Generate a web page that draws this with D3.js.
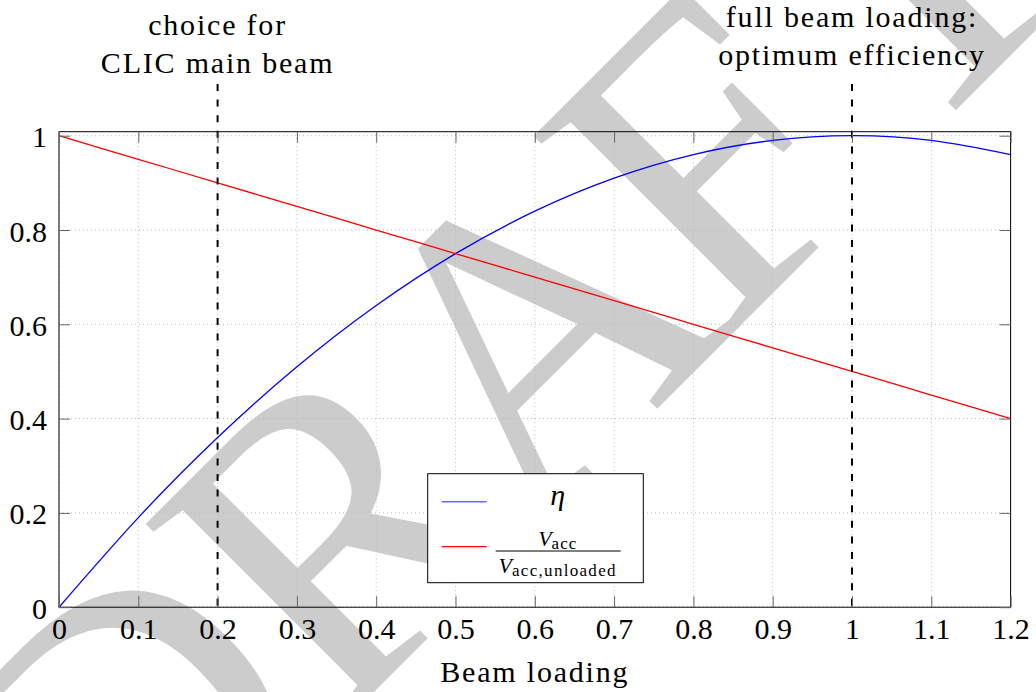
<!DOCTYPE html>
<html>
<head>
<meta charset="utf-8">
<script src="https://cdn.jsdelivr.net/npm/d3@7"></script>
<style>
    body { margin: 0; background: #fff; }
    svg text { font-family: "Liberation Serif", Tinos, "Times New Roman", "DejaVu Serif", serif; fill: #000; }
</style>
</head>
<body>
<div class="visualisation"></div>
<script>
// Values
const beamLoading = [0, 0.1, 0.2, 0.3, 0.4, 0.5, 0.6, 0.7, 0.8, 0.9, 1.0, 1.1, 1.2];
const efficiency = [0, 0.19, 0.36, 0.51, 0.64, 0.75, 0.84, 0.91, 0.96, 0.99, 1.0, 0.99, 0.96];
const voltageRatio = [1, 0.95, 0.9, 0.85, 0.8, 0.75, 0.7, 0.65, 0.6, 0.55, 0.5, 0.45, 0.4];
const xTicks = [0, 0.1, 0.2, 0.3, 0.4, 0.5, 0.6, 0.7, 0.8, 0.9, 1, 1.1, 1.2];
const yTicks = [0, 0.2, 0.4, 0.6, 0.8, 1];
const markers = [0.2, 1];
const markerNotes = [["choice for", "CLIC main beam"], ["full beam loading:", "optimum efficiency"]];
const xLabel = "Beam loading";

// Size related variables
const width = 1036;
const height = 692;
const xMax = 1.2;
const yMax = 1.0085;
const plot = { left: 59, right: 1010.6, top: 131.7, bottom: 607.2 };
const serif = '"Liberation Serif", Tinos, "Times New Roman", "DejaVu Serif", serif';
const fontSize = 30;
const spacing = "1.8px";
const tickLen = 11;

const svg = d3.select(".visualisation")
    .append("svg")
    .attr("width", width)
    .attr("height", height)
    .attr("viewBox", `0 0 ${width} ${height}`);

const x = d3.scaleLinear().domain([0, xMax]).range([plot.left, plot.right]);
const y = d3.scaleLinear().domain([0, yMax]).range([plot.bottom, plot.top]);

// DRAFT watermark behind everything, one letter at a time along a 45 degree baseline
const wmLetters = "DRAFT".split("");
const wmOffsets = [-570, -280, 0, 245, 520];
svg.append("g")
    .attr("transform", "translate(634,432) rotate(-45)")
    .selectAll("text")
    .data(wmLetters)
    .enter()
    .append("text")
    .attr("x", (d, i) => wmOffsets[i])
    .attr("y", 0)
    .attr("text-anchor", "middle")
    .style("font-family", serif)
    .style("font-size", "428px")
    .style("fill", "#cccccc")
    .text(d => d);

// dotted grid
const grid = svg.append("g").attr("class", "grid")
    .attr("stroke", "#b8b8b8")
    .attr("stroke-width", 1)
    .attr("stroke-dasharray", "1,3");
grid.selectAll("line.gx")
    .data(xTicks)
    .enter()
    .append("line")
    .attr("class", "gx")
    .attr("x1", d => x(d)).attr("x2", d => x(d))
    .attr("y1", y(0)).attr("y2", y(yMax));
grid.selectAll("line.gy")
    .data(yTicks)
    .enter()
    .append("line")
    .attr("class", "gy")
    .attr("x1", x(0)).attr("x2", x(xMax))
    .attr("y1", d => y(d)).attr("y2", d => y(d));

// curves
const line = d3.line()
    .x(d => x(d[0]))
    .y(d => y(d[1]))
    .curve(d3.curveNatural);

svg.append("path")
    .datum(d3.zip(beamLoading, efficiency))
    .attr("fill", "none")
    .attr("stroke", "#0000ff")
    .attr("stroke-width", 1.3)
    .attr("d", line);

svg.append("path")
    .datum(d3.zip(beamLoading, voltageRatio))
    .attr("fill", "none")
    .attr("stroke", "#ff0000")
    .attr("stroke-width", 1.3)
    .attr("d", line);

// dashed markers with notes above
const dashTop = 84;
svg.selectAll("line.marker")
    .data(markers)
    .enter()
    .append("line")
    .attr("class", "marker")
    .attr("x1", d => x(d)).attr("x2", d => x(d))
    .attr("y1", dashTop).attr("y2", y(0))
    .attr("stroke", "#000")
    .attr("stroke-width", 2)
    .attr("stroke-dasharray", "7,8.6");

const noteBottom = [73, 65];
const notes = svg.selectAll("text.note")
    .data(markers)
    .enter()
    .append("text")
    .attr("class", "note")
    .attr("text-anchor", "middle")
    .style("font-family", serif)
    .style("font-size", fontSize + "px")
    .style("letter-spacing", spacing);
notes.each(function (d, i) {
    const lines = markerNotes[i];
    lines.forEach((t, j) => {
        d3.select(this).append("tspan")
            .attr("x", x(d))
            .attr("y", noteBottom[i] - (lines.length - 1 - j) * 38.5)
            .text(t);
    });
});

// frame
svg.append("rect")
    .attr("x", x(0))
    .attr("y", y(yMax))
    .attr("width", x(xMax) - x(0))
    .attr("height", y(0) - y(yMax))
    .attr("fill", "none")
    .attr("stroke", "#000")
    .attr("stroke-width", 1);

// inward ticks on all four sides
const fmt = d3.format("~g");
function styleAxis(g) {
    g.attr("font-family", null).attr("font-size", null);
    g.select(".domain").remove();
    g.selectAll("line").attr("stroke", "#666");
    g.selectAll("text").style("font-family", serif).style("font-size", fontSize + "px");
}

svg.append("g")
    .attr("transform", `translate(0,${y(0)})`)
    .call(d3.axisBottom(x).tickValues(xTicks).tickSize(-tickLen).tickFormat(fmt))
    .call(styleAxis)
    .call(g => g.selectAll("text")
        .attr("dy", null)
        .attr("y", 32));

svg.append("g")
    .attr("transform", `translate(0,${y(yMax)})`)
    .call(d3.axisTop(x).tickValues(xTicks).tickSize(-tickLen).tickFormat(""))
    .call(styleAxis);

svg.append("g")
    .attr("transform", `translate(${x(0)},0)`)
    .call(d3.axisLeft(y).tickValues(yTicks).tickSize(-tickLen).tickFormat(fmt))
    .call(styleAxis)
    .call(g => g.selectAll("text")
        .attr("dy", null)
        .attr("x", -12)
        .attr("y", 11));

svg.append("g")
    .attr("transform", `translate(${x(xMax)},0)`)
    .call(d3.axisRight(y).tickValues(yTicks).tickSize(-tickLen).tickFormat(""))
    .call(styleAxis);

// axis label
svg.append("text")
    .attr("x", (x(0) + x(xMax)) / 2)
    .attr("y", 682)
    .attr("text-anchor", "middle")
    .style("font-family", serif)
    .style("font-size", fontSize + "px")
    .style("letter-spacing", spacing)
    .text(xLabel);

// legend
const legend = svg.append("g")
    .attr("class", "legend")
    .attr("transform", "translate(427.7,473.7)");

legend.append("rect")
    .attr("width", 215.6)
    .attr("height", 109)
    .attr("fill", "#fff")
    .attr("stroke", "#000")
    .attr("stroke-width", 1);

legend.append("line")
    .attr("x1", 14).attr("x2", 59)
    .attr("y1", 28).attr("y2", 28)
    .attr("stroke", "#6a6aff").attr("stroke-width", 1.6);

legend.append("line")
    .attr("x1", 14).attr("x2", 59)
    .attr("y1", 73).attr("y2", 73)
    .attr("stroke", "#ff0000").attr("stroke-width", 1.3);

legend.append("text")
    .attr("x", 130)
    .attr("y", 31)
    .attr("text-anchor", "middle")
    .style("font-family", serif)
    .style("font-size", fontSize + "px")
    .style("font-style", "italic")
    .text("η");

// fraction V_acc / V_acc,unloaded
const num = legend.append("text")
    .attr("x", 130)
    .attr("y", 72)
    .attr("text-anchor", "middle")
    .style("font-family", serif);
num.append("tspan").style("font-size", "22px").style("font-style", "italic").text("V");
num.append("tspan").style("font-size", "17px").style("letter-spacing", "1px").attr("dy", 3).text("acc");

legend.append("line")
    .attr("x1", 68).attr("x2", 193)
    .attr("y1", 77.3).attr("y2", 77.3)
    .attr("stroke", "#000").attr("stroke-width", 1);

const den = legend.append("text")
    .attr("x", 130)
    .attr("y", 99)
    .attr("text-anchor", "middle")
    .style("font-family", serif);
den.append("tspan").style("font-size", "22px").style("font-style", "italic").text("V");
den.append("tspan").style("font-size", "17px").style("letter-spacing", "1.3px").attr("dy", 3).text("acc,unloaded");
</script>
</body>
</html>
